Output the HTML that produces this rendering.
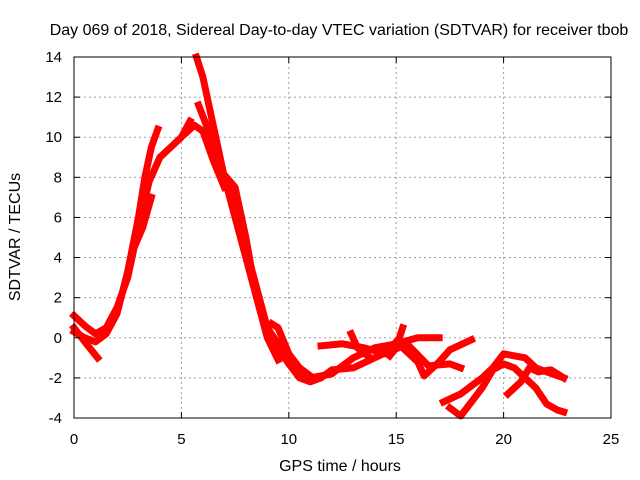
<!DOCTYPE html>
<html><head><meta charset="utf-8"><style>
body{margin:0;background:#fff}
svg{display:block;font-family:"Liberation Sans",sans-serif}
</style></head><body>
<svg id="chart" width="640" height="480" xmlns="http://www.w3.org/2000/svg">
<rect width="640" height="480" fill="#fff"/>
<text x="339" y="35" font-size="16" text-anchor="middle">Day 069 of 2018, Sidereal Day-to-day VTEC variation (SDTVAR) for receiver tbob</text>
<g id="grid"></g>
<g id="series"></g>
<rect x="74" y="57" width="537" height="361" fill="none" stroke="#000" stroke-width="1"/>
<g id="ticks"></g>
<text x="340" y="471" font-size="16" text-anchor="middle">GPS time / hours</text>
<text transform="translate(20,237) rotate(-90)" font-size="16" text-anchor="middle">SDTVAR / TECUs</text>
</svg>
<script>
const xTicks=[0,5,10,15,20,25];
const yTicks=[-4,-2,0,2,4,6,8,10,12,14];
const arcA=[[0,1.1],[0.5,0.6],[1,0.2],[1.5,0.5],[2,1.5],[2.5,3],[3,5.5],[3.5,7.8],[4,9],[4.5,9.5],[5,10],[5.4,10.8]];
const arcB=[[0,0.3],[0.5,0],[1,-0.2],[1.5,0.2],[2,1.2],[2.5,3.3],[3,6],[3.3,8],[3.6,9.5],[3.9,10.4]];
const arcC=[[0,0.5],[0.5,-0.2],[1.1,-1]];
const arcD=[[2.8,4.5],[3.2,5.5],[3.6,7]];
const arcE=[[5.7,14],[6,13],[6.5,10.5],[7,8],[7.5,6],[8,4],[8.5,2],[9,0.5],[9.5,-0.5],[10,-1.3],[10.5,-2],[11,-2.2],[11.5,-2],[12,-1.6],[13,-1.5],[14,-1],[15,-0.5]];
const arcF=[[5.8,11.6],[6.2,10.5],[6.8,8.5],[7.5,6.5],[8,4.5],[8.5,2.5],[9,0.5],[9.5,-0.3],[10,-0.8],[10.5,-1.8],[11,-2],[12,-1.8],[13,-1],[14,-0.5],[15,-0.3],[16,0],[17,0]];
const arcG=[[5.2,10.2],[5.6,10.6],[6,10.3],[6.5,8.8],[7,7.5]];
const arcH=[[7.1,8],[7.5,7.5],[8,5],[8.5,2],[9,0],[9.5,-1.1]];
const arcI=[[9.2,0.7],[9.5,0.5],[10,-0.8],[10.5,-1.5],[11,-1.9]];
const arcJ=[[11.5,-0.4],[12.5,-0.3],[13.5,-0.5],[14.5,-0.8],[15.5,-0.3],[16.5,-1.4],[17.5,-1.3],[18,-1.5]];
const arcK=[[15,-0.2],[15.5,-0.7],[16,-1.2],[16.3,-1.9],[17,-1.2],[17.5,-0.6],[18.5,-0.1]];
const arcL=[[17.2,-3.2],[18,-2.8],[19,-2],[19.5,-1.5],[20,-0.8],[21,-1],[21.5,-1.5],[22,-1.7],[22.8,-2]];
const arcM=[[17.5,-3.5],[18,-3.9],[18.5,-3.2],[19,-2.5],[19.5,-1.6],[20,-1.3],[20.5,-1.5],[21,-2],[21.5,-2.5],[22,-3.3],[22.5,-3.6],[22.8,-3.7]];
const arcN=[[20.2,-2.8],[20.8,-2.2],[21.2,-1.5],[21.6,-1.7],[22.2,-1.6],[22.8,-2]];
const arcO=[[14.7,-0.9],[15,-0.5],[15.3,0.5]];
const arcP=[[12.9,0.2],[13.2,-0.5],[13.8,-1]];
const arcs=[arcA,arcB,arcC,arcD,arcE,arcF,arcG,arcH,arcI,arcJ,arcK,arcL,arcM,arcN,arcO,arcP];
const NS="http://www.w3.org/2000/svg";
const X0=74,X1=611,Y0=418,Y1=57;
function sx(t){return X0+(t-0)/(25-0)*(X1-X0);}
function sy(v){return Y0-(v+4)/(14+4)*(Y0-Y1);}
const grid=document.getElementById('grid'),ticks=document.getElementById('ticks'),ser=document.getElementById('series');
function mk(tag,attrs,parent){const e=document.createElementNS(NS,tag);for(const k in attrs)e.setAttribute(k,attrs[k]);parent.appendChild(e);return e;}
xTicks.forEach(t=>{const x=sx(t);
 if(t>0&&t<25){const g=mk('line',{x1:x,x2:x,y1:Y1,y2:Y0,stroke:'#a0a0a0','stroke-dasharray':'2,3'},grid);
 
 }
 const l=mk('text',{x:x,y:444,'font-size':15,'text-anchor':'middle'},ticks);l.textContent=t;
 
 
 mk('line',{x1:x,x2:x,y1:Y0,y2:Y0-6,stroke:'#000'},ticks);mk('line',{x1:x,x2:x,y1:Y1,y2:Y1+6,stroke:'#000'},ticks);});
yTicks.forEach(v=>{const y=sy(v);
 if(v>-4&&v<14){const g=mk('line',{x1:X0,x2:X1,y1:y,y2:y,stroke:'#a0a0a0','stroke-dasharray':'2,3'},grid);
 
 }
 const l=mk('text',{x:62,y:y+5,'font-size':15,'text-anchor':'end'},ticks);l.textContent=v;
 
 
 mk('line',{x1:X0,x2:X0+6,y1:y,y2:y,stroke:'#000'},ticks);mk('line',{x1:X1,x2:X1-6,y1:y,y2:y,stroke:'#000'},ticks);});
arcs.forEach(a=>{const p=mk('polyline',{points:a.map(d=>sx(d[0])+','+sy(d[1])).join(' '),fill:'none',stroke:'#ff0000','stroke-width':7,'stroke-linejoin':'round','stroke-linecap':'square'},ser);
 
 });
</script>
</body></html>
